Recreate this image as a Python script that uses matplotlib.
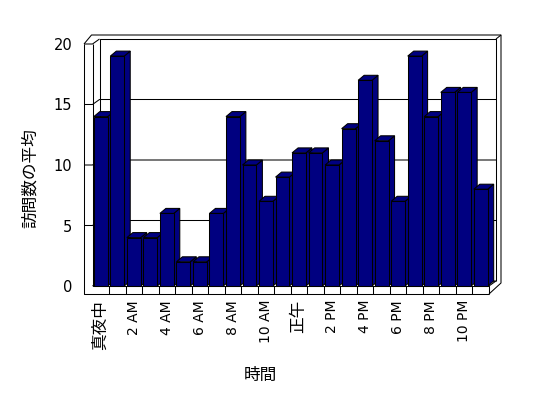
import matplotlib
matplotlib.use("Agg")
import matplotlib.pyplot as plt
from matplotlib.patches import Polygon, Rectangle

plt.rcParams['font.family'] = ['DejaVu Sans', 'Noto Sans CJK JP']

# ---- data ----
hours = list(range(24))
visits = [14, 19, 4, 4, 6, 2, 2, 6, 14, 10, 7, 9, 11, 11, 10, 13, 17, 12, 7, 19, 14, 16, 16, 8]
xtick_labels = ['真夜中', '2 AM', '4 AM', '6 AM', '8 AM', '10 AM', '正午',
                '2 PM', '4 PM', '6 PM', '8 PM', '10 PM']
yticks = [0, 5, 10, 15, 20]
ylabel = '訪問数の平均'
xlabel = '時間'

# ---- layout (pixels) ----
W, H = 548, 398
X0, X1 = 92.5, 489.0      # front plane left/right
Y0, Y20 = 286.0, 44.0     # front plane value 0 / 20
fig = plt.figure(figsize=(W / 100, H / 100), dpi=100)
ax = fig.add_axes([X0 / W, (H - Y0) / H, (X1 - X0) / W, (Y0 - Y20) / H])
ax.set_xlim(0, 24)
ax.set_ylim(0, 20)
for s in ax.spines.values():
    s.set_visible(False)

ux = 24 / (X1 - X0)    # data units per px (x)
uy = 20 / (Y0 - Y20)   # data units per px (y)


def P(xp, yp):
    return ((xp - X0) * ux, (Y0 - yp) * uy)


LW = 0.75
lk = dict(color='black', lw=LW, clip_on=False, solid_capstyle='butt')


def line(*pts, z=1):
    xs, ys = zip(*[P(*p) for p in pts])
    ax.plot(xs, ys, zorder=z, **lk)


# walls & floor frame
DX, DY = 7, 5
line((84, 44), (84, 294), (489, 294))
line((84, 44), (91.5, 35), (501, 35), (501, 283), (489, 294))
line((84, 44), (X0, 44), (X0 + DX, 44 - DY))
line((X0, 44), (X0, Y0), (X1, Y0), (X1, 294))
line((X0, Y0), (X0 + DX, Y0 - DY), (X1 + DX, Y0 - DY), (X1, Y0))
line((X0 + DX, Y0 - DY), (X0 + DX, 44 - DY), (X1 + DX, 44 - DY), (X1 + DX, Y0 - DY))
line((X1 + DX, 44 - DY), (501, 35))

# gridlines through left wall and back wall
for v in yticks[1:-1]:
    ty = Y0 - v / uy
    line((84, ty), (X0, ty), (X0 + DX, ty - DY), (X1 + DX, ty - DY))

# floor front ticks
for k in range(1, 24):
    xp = X0 + k / ux
    line((xp, Y0), (xp, 294))

# bars
BW = 0.84
bdx, bdy = 6 * ux, 5 * uy
col = '#000080'
for i, v in zip(hours, visits):
    xl = i + 0.5 - BW / 2
    xr = xl + BW
    side = Polygon([(xr, 0), (xr, v), (xr + bdx, v + bdy), (xr + bdx, bdy)],
                   closed=True, fc=col, ec='black', lw=LW, zorder=3 + i * 0.01, clip_on=False)
    top = Polygon([(xl, v), (xr, v), (xr + bdx, v + bdy), (xl + bdx, v + bdy)],
                  closed=True, fc=col, ec='black', lw=LW, zorder=3 + i * 0.01, clip_on=False)
    ax.add_patch(side)
    ax.add_patch(top)
    ax.add_patch(Rectangle((xl, 0), BW, v, fc=col, ec='black', lw=LW,
                           zorder=3 + i * 0.01 + 0.005, clip_on=False))

# ticks & labels
ax.set_yticks(yticks)
ax.set_yticklabels([str(t) for t in yticks], fontsize=10.5)
ax.set_xticks([h + 0.5 for h in hours[::2]])
ax.set_xticklabels(xtick_labels, rotation=90, fontsize=10, va='top', ha='center')
for t in ax.get_xticklabels():
    if t.get_text() in ('真夜中', '正午'):
        t.set_fontsize(12)
        t.set_family(['Noto Sans CJK JP', 'DejaVu Sans'])
ax.tick_params(axis='y', length=0, pad=14.5)
ax.tick_params(axis='x', length=0, pad=10)

cjk = ['Noto Sans CJK JP', 'DejaVu Sans']
fig.text(30 / W, 1 - 178 / H, ylabel, rotation=90, ha='center', va='center',
         fontsize=12, family=cjk)
fig.text(260 / W, 1 - 375 / H, xlabel, ha='center', va='center', fontsize=12, family=cjk)

fig.savefig('out.png', dpi=100, facecolor='white')
